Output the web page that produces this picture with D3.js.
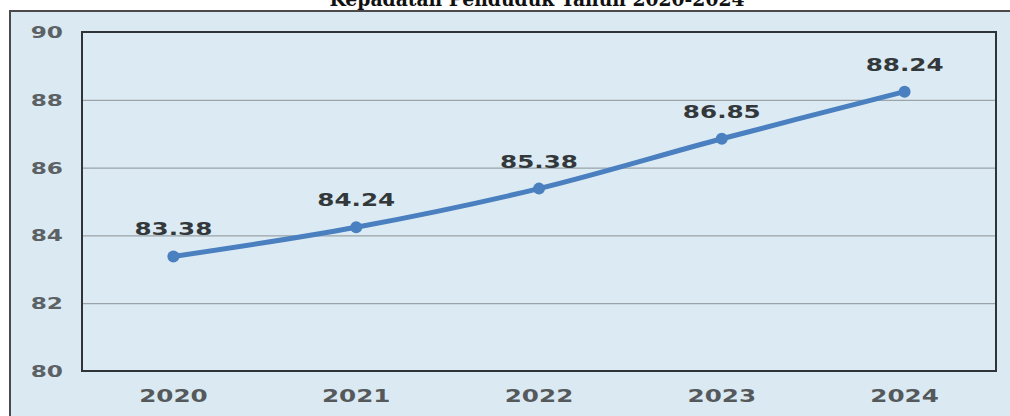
<!DOCTYPE html>
<html><head><meta charset="utf-8">
<script src="https://cdn.jsdelivr.net/npm/d3@7"></script>
<style>body{margin:0;background:#fff}svg{display:block}</style>
</head><body><svg id="c" width="1010" height="416"></svg>
<script>
const years = ["2020","2021","2022","2023","2024"];
const values = [83.38, 84.24, 85.38, 86.85, 88.24];
const yTicks = [80, 82, 84, 86, 88, 90];
const title = "Kepadatan Penduduk Tahun 2020-2024";

const svg = d3.select("#c");
const m = {l: 82, t: 32, r: 996, b: 371};
const sx = 1.45;

svg.append("rect").attr("x", 10).attr("y", 11).attr("width", 1010).attr("height", 420)
  .attr("fill", "#dbeaf2").attr("stroke", "#4a4a4a").attr("stroke-width", 2);

svg.append("text").attr("x", 537).attr("y", 6).attr("text-anchor", "middle")
  .attr("font-family", "DejaVu Serif").attr("font-weight", "bold").attr("font-size", 21)
  .attr("textLength", 415).attr("lengthAdjust", "spacingAndGlyphs")
  .attr("fill", "#111").text(title);

const x = d3.scalePoint().domain(years).range([m.l, m.r]).padding(0.5);
const y = d3.scaleLinear().domain([80, 90]).range([m.b, m.t]);

svg.append("rect").attr("x", m.l).attr("y", m.t).attr("width", m.r - m.l).attr("height", m.b - m.t)
  .attr("fill", "#dcebf3");

const grid = svg.append("g").attr("transform", `translate(${m.l},0)`)
  .call(d3.axisLeft(y).tickValues(yTicks.filter(v => v > 80 && v < 90)).tickSize(-(m.r - m.l)).tickFormat(""));
grid.select(".domain").remove();
grid.selectAll("line").attr("stroke", "#9aa3a8").attr("stroke-width", 1.2);

svg.append("rect").attr("x", m.l).attr("y", m.t).attr("width", m.r - m.l).attr("height", m.b - m.t)
  .attr("fill", "none").attr("stroke", "#2f3438").attr("stroke-width", 2);

// y labels
svg.append("g").selectAll("text").data(yTicks).join("text")
  .attr("transform", d => `translate(63,${y(d) + 6}) scale(${sx},1)`)
  .attr("text-anchor", "end").attr("font-family", "DejaVu Sans").attr("font-weight", "bold")
  .attr("font-size", 16).attr("fill", "#5b6165").text(d => d);

// x labels
svg.append("g").selectAll("text").data(years).join("text")
  .attr("transform", d => `translate(${x(d)},402) scale(${sx},1)`)
  .attr("text-anchor", "middle").attr("font-family", "DejaVu Sans").attr("font-weight", "bold")
  .attr("font-size", 17).attr("fill", "#55595c").text(d => d);

const data = years.map((k, i) => ({k, v: values[i]}));
svg.append("path").datum(data)
  .attr("d", d3.line().x(d => x(d.k)).y(d => y(d.v)).curve(d3.curveCatmullRom.alpha(0.5)))
  .attr("fill", "none").attr("stroke", "#4a7fc0").attr("stroke-width", 5).attr("stroke-linecap", "round");

svg.append("g").selectAll("circle").data(data).join("circle")
  .attr("cx", d => x(d.k)).attr("cy", d => y(d.v)).attr("r", 6).attr("fill", "#4a7fc0");

svg.append("g").selectAll("text").data(data).join("text")
  .attr("transform", d => `translate(${x(d.k)},${y(d.v) - 21}) scale(${sx},1)`)
  .attr("text-anchor", "middle").attr("font-family", "DejaVu Sans").attr("font-weight", "bold")
  .attr("font-size", 17).attr("fill", "#33383b").text(d => d.v.toFixed(2));
</script></body></html>
